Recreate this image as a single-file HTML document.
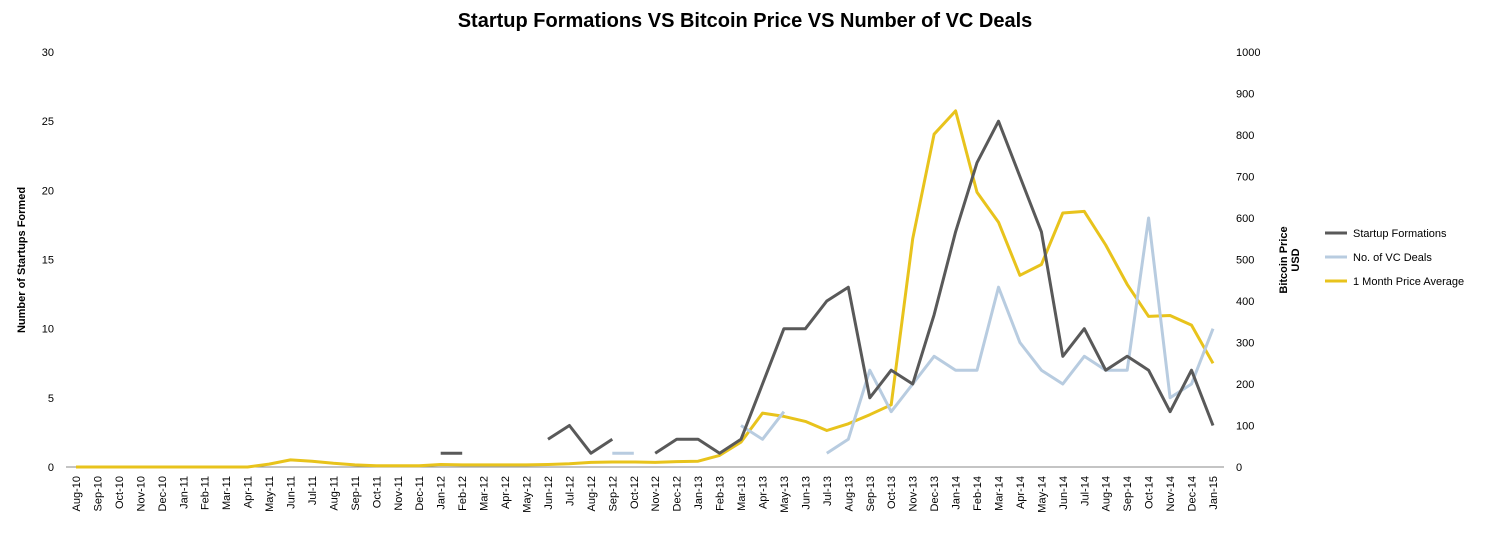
<!DOCTYPE html>
<html><head><meta charset="utf-8"><style>
body{margin:0;background:#fff;}
svg text{font-family:"Liberation Sans",sans-serif;}
</style></head><body>
<svg id="c" width="1492" height="534" xmlns="http://www.w3.org/2000/svg"></svg>
<script>
const s=document.getElementById('c');
let h='';
const X0=76,DX=(1213-76)/53,Y0=467,YT=52;
const x=i=>X0+i*DX, yl=v=>Y0-(Y0-YT)*v/30, yr=v=>Y0-(Y0-YT)*v/1000;
h+='<text x="745" y="27" text-anchor="middle" font-size="20" font-weight="bold" fill="#000">Startup Formations VS Bitcoin Price VS Number of VC Deals</text>';
h+=`<line x1="66" y1="${Y0}" x2="1224" y2="${Y0}" stroke="#888" stroke-width="1"/>`;
for(let v=0;v<=30;v+=5)h+=`<text x="54" y="${yl(v)+4}" text-anchor="end" font-size="11" fill="#000">${v}</text>`;
for(let v=0;v<=1000;v+=100)h+=`<text x="1236" y="${yr(v)+4}" font-size="11" fill="#000">${v}</text>`;
const mn=['Jan','Feb','Mar','Apr','May','Jun','Jul','Aug','Sep','Oct','Nov','Dec'];
for(let i=0;i<54;i++){const m=(7+i)%12,yy=10+Math.floor((7+i)/12);
h+=`<text transform="translate(${x(i)+4},476) rotate(-90)" text-anchor="end" font-size="11" fill="#000">${mn[m]}-${yy}</text>`;}
h+='<text transform="translate(25,260) rotate(-90)" text-anchor="middle" font-size="11" font-weight="bold">Number of Startups Formed</text>';
h+='<text transform="translate(1287,260) rotate(-90)" text-anchor="middle" font-size="11" font-weight="bold">Bitcoin Price</text>';
h+='<text transform="translate(1299,260) rotate(-90)" text-anchor="middle" font-size="11" font-weight="bold">USD</text>';
function line(pts,fy,col){h+=`<polyline fill="none" stroke="${col}" stroke-width="3" stroke-linejoin="round" points="${pts.map(p=>x(p[0]).toFixed(1)+','+fy(p[1]).toFixed(1)).join(' ')}"/>`;}
const price=[0,0,0,0,0,0,0,0,0,7,17,14,9,5,3,3,3,6,5,5,5,5,6,8,11,12,12,11,13,14,28,60,130,122,110,88,104,126,150,550,802,858,662,590,462,488,612,616,535,440,363,365,342,250];
line(price.map((v,i)=>[i,v]),yr,'#e8c31c');
const vc=[[[25,1],[26,1]],[[31,3],[32,2],[33,4]],[[35,1],[36,2],[37,7],[38,4],[39,6],[40,8],[41,7],[42,7],[43,13],[44,9],[45,7],[46,6],[47,8],[48,7],[49,7],[50,18],[51,5],[52,6],[53,10]]];
vc.forEach(p=>line(p,yl,'#b8cce0'));
const st=[[[17,1],[18,1]],[[22,2],[23,3],[24,1],[25,2]],[[27,1],[28,2],[29,2],[30,1],[31,2],[32,6],[33,10],[34,10],[35,12],[36,13],[37,5],[38,7],[39,6],[40,11],[41,17],[42,22],[43,25],[44,21],[45,17],[46,8],[47,10],[48,7],[49,8],[50,7],[51,4],[52,7],[53,3]]];
st.forEach(p=>line(p,yl,'#595959'));
const lg=[['Startup Formations','#595959',233],['No. of VC Deals','#b8cce0',257],['1 Month Price Average','#e8c31c',281]];
lg.forEach(l=>{h+=`<line x1="1325" x2="1347" y1="${l[2]}" y2="${l[2]}" stroke="${l[1]}" stroke-width="3"/><text x="1353" y="${l[2]+4}" font-size="11">${l[0]}</text>`;});
s.innerHTML=h;
</script>
</body></html>
